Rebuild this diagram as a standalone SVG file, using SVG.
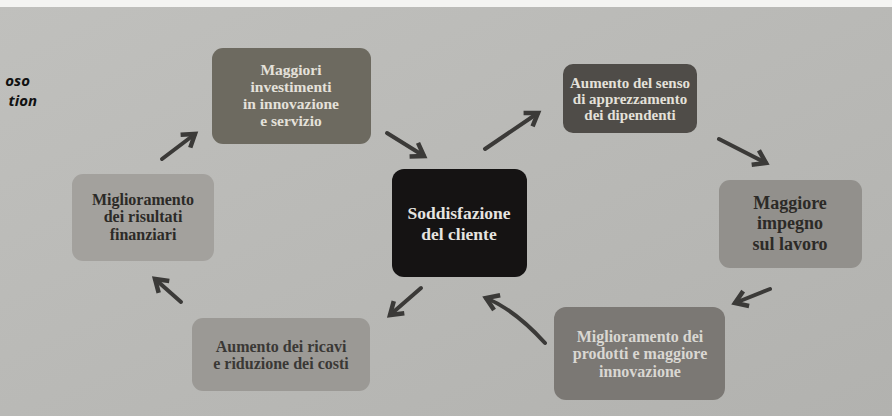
<svg xmlns="http://www.w3.org/2000/svg" width="892" height="416" viewBox="0 0 892 416">
<style>
.n{font-family:"Liberation Serif","DejaVu Serif",serif;font-weight:bold;text-anchor:middle}
.lt{fill:#e4e1da}
.dk{fill:#2c2a27}
.ar{fill:none;stroke:#3b3a38;stroke-width:4;stroke-linecap:round}
.side{font-family:"Open Sans","DejaVu Sans",sans-serif;font-weight:bold;font-style:italic;font-size:15px;fill:#111;text-anchor:end}
</style>
<defs>
<linearGradient id="bg" x1="0" y1="0" x2="1" y2="1">
<stop offset="0" stop-color="#c0c0bd"/>
<stop offset="1" stop-color="#b2b2af"/>
</linearGradient>
<marker id="ah" markerUnits="userSpaceOnUse" markerWidth="30" markerHeight="30" refX="14" refY="10" orient="auto" viewBox="0 0 30 20">
<path d="M2,2 L14,10 L2,18" fill="none" stroke="#3b3a38" stroke-width="4.5" stroke-linejoin="miter"/>
</marker>
</defs>
<rect width="892" height="416" fill="url(#bg)"/>
<rect width="892" height="7" fill="#f4f4f2"/>
<text class="side" x="30" y="86">oso</text>
<text class="side" x="37" y="106">tion</text>

<g id="connectors">
<path class="ar" d="M387,133 L424,156" marker-end="url(#ah)"/>
<path class="ar" d="M485,149 L538,113" marker-end="url(#ah)"/>
<path class="ar" d="M719,139 L766,163" marker-end="url(#ah)"/>
<path class="ar" d="M770,289 L735,303" marker-end="url(#ah)"/>
<path class="ar" d="M545,343 Q515,310 486,298" marker-end="url(#ah)"/>
<path class="ar" d="M421,288 L390,315" marker-end="url(#ah)"/>
<path class="ar" d="M181,302 L155,279" marker-end="url(#ah)"/>
<path class="ar" d="M162,159 L195,134" marker-end="url(#ah)"/>
</g>

<g id="n-investimenti">
<rect x="212" y="48" width="159" height="96" rx="11" fill="#6d6a60"/>
<text class="n lt" font-size="15.5"><tspan x="291" y="75">Maggiori</tspan><tspan x="291" y="92">investimenti</tspan><tspan x="291" y="109">in innovazione</tspan><tspan x="291" y="126">e servizio</tspan></text>
</g>

<g id="n-apprezzamento">
<rect x="563" y="64" width="134" height="69" rx="10" fill="#4f4c48"/>
<text class="n lt" font-size="15"><tspan x="630" y="88">Aumento del senso</tspan><tspan x="630" y="104">di apprezzamento</tspan><tspan x="630" y="120">dei dipendenti</tspan></text>
</g>

<g id="n-cliente">
<rect x="392" y="169" width="135" height="108" rx="12" fill="#151313"/>
<text class="n" font-size="17.5" fill="#e6e4e0"><tspan x="459" y="219">Soddisfazione</tspan><tspan x="459" y="240">del cliente</tspan></text>
</g>

<g id="n-impegno">
<rect x="719" y="180" width="143" height="88" rx="11" fill="#92908c"/>
<text class="n dk" font-size="18"><tspan x="790" y="209">Maggiore</tspan><tspan x="790" y="229">impegno</tspan><tspan x="790" y="250">sul lavoro</tspan></text>
</g>

<g id="n-prodotti">
<rect x="554" y="307" width="171" height="93" rx="12" fill="#7b7874"/>
<text class="n" font-size="16" fill="#d9d7d2"><tspan x="640" y="342">Miglioramento dei</tspan><tspan x="640" y="359">prodotti e maggiore</tspan><tspan x="640" y="377">innovazione</tspan></text>
</g>

<g id="n-ricavi">
<rect x="192" y="318" width="178" height="73" rx="11" fill="#9b9995"/>
<text class="n" font-size="16" fill="#3a3835"><tspan x="281" y="352">Aumento dei ricavi</tspan><tspan x="281" y="369">e riduzione dei costi</tspan></text>
</g>

<g id="n-finanziari">
<rect x="72" y="174" width="142" height="87" rx="11" fill="#a3a19d"/>
<text class="n dk" font-size="16"><tspan x="143" y="205">Miglioramento</tspan><tspan x="143" y="222">dei risultati</tspan><tspan x="143" y="240">finanziari</tspan></text>
</g>
</svg>
